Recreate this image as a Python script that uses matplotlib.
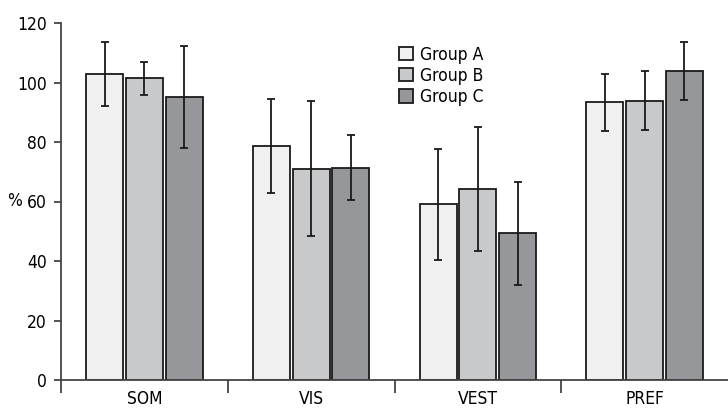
import matplotlib.pyplot as plt
import numpy as np

plt.rcParams['font.family'] = ['DejaVu Sans']
plt.rcParams['font.stretch'] = 'condensed'

categories = ["SOM", "VIS", "VEST", "PREF"]
groups = ["Group A", "Group B", "Group C"]
group_a = [102.9, 78.6, 59.1, 93.3]
group_b = [101.4, 71.0, 64.3, 93.9]
group_c = [95.1, 71.4, 49.3, 103.9]
err_a = [10.8, 15.7, 18.7, 9.6]
err_b = [5.5, 22.7, 20.8, 10.0]
err_c = [17.2, 10.8, 17.4, 9.8]
colors = ["#f0f0f0", "#c8c9cb", "#96979a"]

fig = plt.figure(figsize=(7.28, 4.08), dpi=100)
ax = fig.add_axes([61 / 728, 28 / 408, 667 / 728, 357 / 408])

x = np.arange(len(categories))
w = 0.222
step = 0.238
for i, (vals, errs) in enumerate(zip([group_a, group_b, group_c], [err_a, err_b, err_c])):
    pos = x + (i - 1) * step
    ax.bar(pos, vals, width=w, color=colors[i], edgecolor="#1a1a1a", linewidth=1.3,
           label=groups[i], zorder=2)
    ax.errorbar(pos, vals, yerr=errs, fmt="none", ecolor="#1a1a1a", elinewidth=1.3,
                capsize=2.7, capthick=1.3, zorder=3)

ax.set_xlim(-0.5, 3.5)
ax.set_ylim(0, 120)
ax.set_yticks(range(0, 121, 20))
ax.set_xticks([-0.5, 0.5, 1.5, 2.5])
ax.set_xticklabels([])
ax.set_xticks(x, minor=True)
ax.set_xticklabels(categories, minor=True)
ax.tick_params(axis="x", which="minor", length=0, pad=7, labelsize=12.5)
ax.tick_params(axis="x", which="major", length=9, width=1.3, color="#444444")
ax.tick_params(axis="y", length=5, width=1.3, color="#444444", labelsize=12.5, pad=5)

for s in ["top", "right"]:
    ax.spines[s].set_visible(False)
for s in ["left", "bottom"]:
    ax.spines[s].set_color("#444444")
    ax.spines[s].set_linewidth(1.3)

ax.set_ylabel("%", rotation=0, fontsize=12.5, va="center")
ax.yaxis.set_label_coords(-0.07, 0.5)

ax.legend(loc="upper left", bbox_to_anchor=(390 / 728, 371 / 408), bbox_transform=fig.transFigure,
          frameon=False, fontsize=12.5, handlelength=0.85, handleheight=0.8,
          labelspacing=0.18, handletextpad=0.35, borderpad=0)

fig.savefig("out.png", dpi=100)
